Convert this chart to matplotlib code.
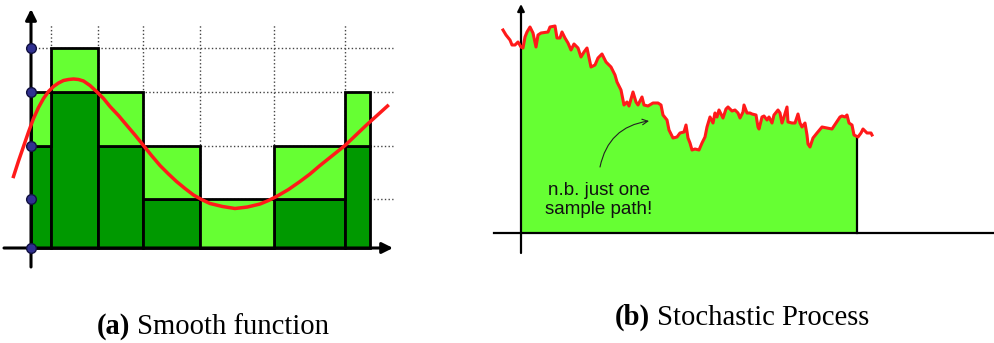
import numpy as np
import matplotlib
matplotlib.use("Agg")
import matplotlib.pyplot as plt
from matplotlib.patches import Rectangle

# ---- panel (a): step approximation of a smooth function ----
edges = [0, 0.4, 1.34, 2.24, 3.38, 4.86, 6.28, 6.78]
levels = [0, 0.98, 2.04, 3.12, 4.0]
lower = [2.04, 3.12, 2.04, 0.98, 0, 0.98, 2.04]
upper = [3.12, 4.0, 3.12, 2.04, 0.98, 2.04, 3.12]

curve_x = [-0.35, -0.25, -0.15, -0.05, 0.05, 0.15, 0.25, 0.35, 0.45, 0.55,
           0.65, 0.75, 0.85, 0.95, 1.05, 1.18, 1.31, 1.45, 1.58, 1.75, 1.91,
           2.08, 2.25, 2.41, 2.58, 2.75, 2.91, 3.08, 3.25, 3.41, 3.58, 3.83,
           4.08, 4.33, 4.58, 4.75, 4.91, 5.15, 5.38, 5.58, 5.78, 6.03, 6.28,
           6.5, 6.71, 6.92, 7.13]
curve_y = [1.43, 1.74, 2.03, 2.32, 2.59, 2.81, 2.99, 3.13, 3.23, 3.30,
           3.35, 3.37, 3.38, 3.37, 3.34, 3.25, 3.13, 2.99, 2.83, 2.65, 2.46,
           2.26, 2.05, 1.85, 1.65, 1.48, 1.33, 1.19, 1.06, 0.97, 0.89, 0.83,
           0.79, 0.82, 0.88, 0.95, 1.03, 1.17, 1.33, 1.48, 1.65, 1.85, 2.05,
           2.26, 2.46, 2.65, 2.84]

# ---- panel (b): one sample path ----
path_t = [-0.18, -0.15, -0.11, -0.09, -0.06, -0.03, 0.00, 0.02, 0.04, 0.06,
          0.09, 0.12, 0.15, 0.17, 0.20, 0.27, 0.29, 0.34, 0.36, 0.39, 0.41,
          0.44, 0.47, 0.50, 0.53, 0.57, 0.60, 0.63, 0.66, 0.70, 0.74, 0.77,
          0.81, 0.85, 0.90, 0.94, 0.96, 1.00, 1.03, 1.06, 1.08, 1.12, 1.15,
          1.17, 1.21, 1.23, 1.27, 1.32, 1.37, 1.40, 1.42, 1.46, 1.48, 1.52,
          1.56, 1.59, 1.63, 1.65, 1.67, 1.69, 1.71, 1.74, 1.78, 1.81, 1.84,
          1.86, 1.89, 1.92, 1.94, 1.96, 1.98, 2.02, 2.05, 2.07, 2.11, 2.14,
          2.17, 2.19, 2.22, 2.23, 2.26, 2.29, 2.31, 2.35, 2.37, 2.38, 2.41,
          2.43, 2.46, 2.48, 2.51, 2.53, 2.57, 2.59, 2.61, 2.63, 2.66, 2.67,
          2.71, 2.74, 2.77, 2.79, 2.81, 2.84, 2.86, 2.87, 2.89, 2.92, 2.96,
          3.01, 3.06, 3.11, 3.15, 3.19, 3.21, 3.24, 3.26, 3.28, 3.31, 3.33,
          3.37, 3.40, 3.42, 3.46, 3.50, 3.51]
path_v = [2.03, 1.98, 1.93, 1.88, 1.88, 1.91, 1.86, 1.85, 1.96, 2.01,
          2.06, 2.00, 1.86, 1.98, 2.00, 2.01, 2.06, 2.07, 1.95, 1.95, 2.01,
          1.95, 1.90, 1.83, 1.89, 1.85, 1.76, 1.81, 1.85, 1.66, 1.68, 1.75,
          1.79, 1.71, 1.66, 1.58, 1.51, 1.43, 1.28, 1.31, 1.27, 1.41, 1.31,
          1.28, 1.36, 1.28, 1.27, 1.30, 1.30, 1.28, 1.18, 1.13, 1.03, 0.95,
          0.96, 1.00, 1.01, 1.08, 0.95, 0.90, 0.83, 0.84, 0.83, 0.90, 0.96,
          1.06, 1.16, 1.10, 1.20, 1.16, 1.23, 1.15, 1.24, 1.26, 1.22, 1.23,
          1.20, 1.15, 1.21, 1.28, 1.20, 1.20, 1.19, 1.18, 1.06, 1.04, 1.16,
          1.17, 1.13, 1.16, 1.10, 1.18, 1.23, 1.20, 1.10, 1.16, 1.26, 1.11,
          1.10, 1.10, 1.19, 1.10, 1.06, 1.10, 0.98, 0.89, 0.86, 0.95, 1.00,
          1.06, 1.05, 1.04, 1.10, 1.16, 1.17, 1.16, 1.18, 1.10, 1.08, 0.98,
          0.96, 1.00, 1.04, 1.00, 1.00, 0.98]
t_end = 3.36

captions = [("(a)", " Smooth function"), ("(b)", " Stochastic Process")]

light = "#66ff33"
dark = "#009900"
red = "#ff1a1a"

W, H = 994, 343
fig = plt.figure(figsize=(W / 100, H / 100), dpi=100)


def box(x0, y0, x1, y1):
    # pixel box (from top-left) -> figure fraction rect
    return [x0 / W, 1 - y1 / H, (x1 - x0) / W, (y1 - y0) / H]


def arrow(ax, start, end, lw, ms):
    ax.annotate("", xy=end, xytext=start,
                arrowprops=dict(arrowstyle="-|>", lw=lw, color="black",
                                mutation_scale=ms, shrinkA=0, shrinkB=0),
                annotation_clip=False)


# left panel, 50 px per unit, origin at pixel (31, 248)
ax1 = fig.add_axes(box(0, 0, 400, 270))
ax1.set_xlim(-31 / 50, (400 - 31) / 50)
ax1.set_ylim((248 - 270) / 50, 248 / 50)
ax1.axis("off")

for x in edges[1:-1]:
    ax1.plot([x, x], [0, 4.48], color="#444444", ls=":", lw=1, zorder=1)
for y in levels[1:]:
    ax1.plot([0, 7.24], [y, y], color="#444444", ls=":", lw=1, zorder=1)

lefts = edges[:-1]
widths = np.diff(edges)
ax1.bar(lefts, lower, widths, align="edge", color=dark, edgecolor="black",
        linewidth=2.0, zorder=2)
ax1.bar(lefts, np.array(upper) - np.array(lower), widths, bottom=lower,
        align="edge", color=light, edgecolor="black", linewidth=2.0, zorder=2)

ax1.plot(curve_x, curve_y, color=red, lw=2.5, zorder=4)

arrow(ax1, (-0.54, 0), (7.24, 0), 2.2, 16)
arrow(ax1, (0, -0.38), (0, 4.78), 2.2, 16)
ax1.plot(np.zeros(len(levels)), levels, "o", ms=7, mfc="#303090",
         mec="#101040", mew=1, zorder=6)

# right panel, 100 px per unit, origin at pixel (521, 233)
ax2 = fig.add_axes(box(490, 0, 994, 260))
ax2.set_xlim(-31 / 100, 473 / 100)
ax2.set_ylim(-27 / 100, 233 / 100)
ax2.axis("off")

fill = ax2.fill_between(path_t, path_v, 0, color=light, lw=0, zorder=1)
fill.set_clip_path(Rectangle((0, -1), t_end, 5, transform=ax2.transData))
ax2.plot([-0.27, 4.73], [0, 0], color="black", lw=1.6, zorder=2,
         clip_on=False)
arrow(ax2, (0, -0.2), (0, 2.29), 1.6, 10)
ax2.plot([t_end, t_end], [0, np.interp(t_end, path_t, path_v)],
         color="black", lw=1.6, zorder=2)
ax2.plot(path_t, path_v, color=red, lw=2.2, zorder=3)

ax2.annotate("", xy=(1.28, 1.12), xytext=(0.79, 0.66),
             arrowprops=dict(arrowstyle="->", lw=0.8, color="#222222",
                             connectionstyle="arc3,rad=-0.35",
                             shrinkA=0, shrinkB=0))
ax2.text(0.78, 0.33, "n.b. just one\nsample path!", ha="center",
         va="center", fontsize=13.5, family="Liberation Sans",
         color="#111111", linespacing=1.1)

# captions: bold tag followed by plain text
for (x, y), (tag, rest) in zip([(97, 334), (615, 325)], captions):
    t1 = fig.text(x / W, 1 - y / H, tag, fontsize=20.6, weight="bold",
                  family="Liberation Serif", va="baseline")
    ax1.annotate(rest, xy=(1, 0), xycoords=t1, fontsize=20.6,
                 family="Liberation Serif", va="bottom", ha="left",
                 annotation_clip=False)

fig.savefig("out.png", dpi=100)
